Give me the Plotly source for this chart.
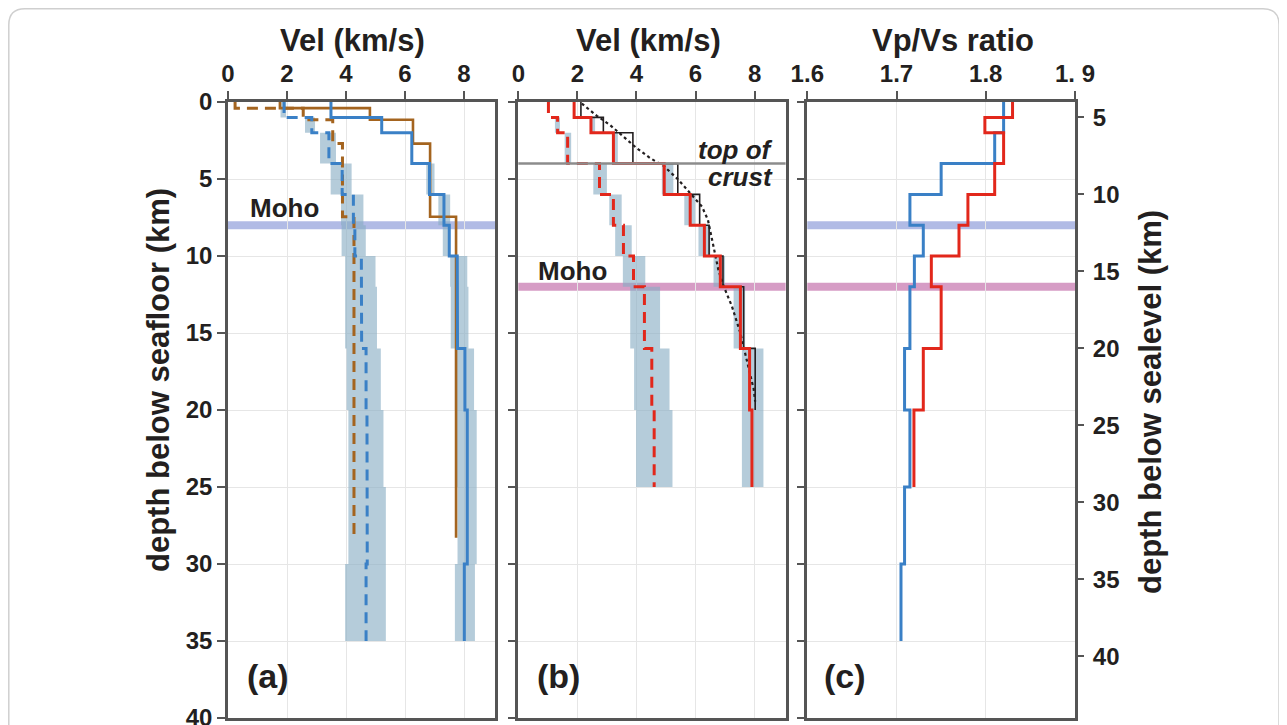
import plotly.graph_objects as go

# page body has an 8px margin, so the figure is 8px smaller than the window on each axis
OFF = 8
FW, FH = 1287 - OFF, 725 - OFF

# ---------------- Panel (a): blue model (this study) ----------------
a_tops = [0, 1, 2, 4, 6, 8, 10, 12, 16, 20, 25, 30]
a_bots = [1, 2, 4, 6, 8, 10, 12, 16, 20, 25, 30, 35]
a_vp = [3.49, 5.21, 6.23, 6.83, 7.32, 7.50, 7.77, 7.78, 8.03, 8.11, 8.11, 8.01]
a_vs = [1.90, 2.84, 3.42, 3.87, 4.25, 4.30, 4.52, 4.53, 4.68, 4.71, 4.72, 4.68]
a_vp_lo = [None, None, None, 6.72, 7.13, 7.28, 7.53, 7.55, 7.69, 7.75, 7.78, 7.69]
a_vp_hi = [None, None, None, 7.00, 7.53, 7.53, 8.11, 8.15, 8.34, 8.43, 8.43, 8.37]
a_vs_lo = [1.78, 2.61, 3.12, 3.48, 3.83, 3.85, 3.97, 3.97, 4.02, 4.08, 4.08, 3.97]
a_vs_hi = [1.97, 2.95, 3.66, 4.19, 4.59, 4.67, 5.00, 5.05, 5.18, 5.27, 5.35, 5.35]

# Panel (a): brown reference model
br_tops = [0, 0.4, 1.15, 2.7, 7.45]
br_bots = [0.4, 1.15, 2.7, 7.45, 28.3]
br_vp = [1.76, 4.81, 6.27, 6.85, 7.73]
br_vs = [0.24, 2.55, 3.55, 3.88, 4.27]

moho_a = 8.0

# ---------------- Panel (b): red model ----------------
b_tops = [0, 1, 2, 4, 6, 8, 10, 12, 16, 20]
b_bots = [1, 2, 4, 6, 8, 10, 12, 16, 20, 25]
b_vp = [1.89, 2.46, 3.22, 4.94, 5.82, 6.30, 6.84, 7.52, 7.83, 7.91]
b_vs = [1.02, 1.33, 1.67, 2.75, 3.22, 3.56, 3.90, 4.27, 4.52, 4.60]
b_vp_lo = [None, 2.46, 3.22, 4.86, 5.62, 6.10, 6.61, 7.29, 7.57, 7.57]
b_vp_hi = [None, 2.60, 3.37, 5.25, 5.99, 6.50, 7.00, 7.68, 8.30, 8.30]
b_vs_lo = [None, 1.24, 1.57, 2.54, 3.08, 3.28, 3.54, 3.79, 3.92, 3.99]
b_vs_hi = [None, 1.41, 1.79, 3.00, 3.50, 3.84, 4.30, 4.80, 5.12, 5.22]

# Panel (b): black layered model
k_tops = [0, 1, 2, 4, 6, 8, 10, 12, 16]
k_bots = [1, 2, 4, 6, 8, 10, 12, 16, 20]
k_vp = [2.12, 2.88, 3.88, 5.40, 6.14, 6.46, 6.93, 7.63, 8.02]

# Panel (b): dotted gradient model
dot_depth = [0.1, 0.9, 1.5, 2.25, 3.0, 3.65, 4.15, 5.05, 5.9, 6.8, 7.65, 8.75, 10.05, 10.95, 11.95, 13.25, 14.95, 16.75, 18.65, 19.45]
dot_vel = [2.15, 2.66, 3.11, 3.56, 4.01, 4.47, 4.92, 5.42, 5.82, 6.22, 6.42, 6.54, 6.67, 6.78, 6.95, 7.23, 7.51, 7.74, 7.97, 8.02]

moho_b = 12.0
top_of_crust = 4.0

# ---------------- Panel (c): Vp/Vs ratio ----------------
cb_tops = [0, 2, 4, 6, 8, 10, 12, 16, 20, 25, 30]
cb_bots = [2, 4, 6, 8, 10, 12, 16, 20, 25, 30, 35]
cb_ratio = [1.820, 1.810, 1.750, 1.715, 1.730, 1.720, 1.715, 1.709, 1.715, 1.709, 1.705]
cr_tops = [0, 1, 2, 4, 6, 8, 10, 12, 16, 20]
cr_bots = [1, 2, 4, 6, 8, 10, 12, 16, 20, 25]
cr_ratio = [1.830, 1.799, 1.820, 1.810, 1.780, 1.770, 1.739, 1.750, 1.730, 1.7195]

water_depth = 4.0
sealevel_ticks = [5, 10, 15, 20, 25, 30, 35, 40]
depth_ticks = [0, 5, 10, 15, 20, 25, 30, 35, 40]
vel_ticks = [0, 2, 4, 6, 8]
ratio_ticks = [1.6, 1.7, 1.8, 1.9]
ratio_ticktext = ["1.6", "1.7", "1.8", "1. 9"]

# ---------------- styles ----------------
BLUE = "#3a80c6"
BROWN = "#a4641f"
RED = "#e2271b"
BLACK = "#231f20"
SHADE = "rgba(135,172,196,0.62)"
MOHO_A = "rgba(105,125,205,0.52)"
MOHO_B = "rgba(185,85,155,0.58)"
FRAME = "#555555"
GRID = "#e6e6e6"
FONT = "Liberation Sans, Arial, sans-serif"
DASH = "11px,7px"


def px(x):
    return (x - OFF) / FW


def py(y):
    return 1 - (y - OFF) / FH


def steps(vals, tops, bots, shift=0.0):
    xs, ys = [], []
    for v, t, b in zip(vals, tops, bots):
        xs += [v, v]
        ys += [t + shift, b + shift]
    return xs, ys


def boxes(lo, hi, tops, bots):
    xs, ys = [], []
    for l, h, t, b in zip(lo, hi, tops, bots):
        if l is None:
            continue
        xs += [l, h, h, l, l, None]
        ys += [t, t, b, b, t, None]
    return xs, ys


fig = go.Figure()


def add_box(lo, hi, tops, bots, xa, ya):
    bx, by = boxes(lo, hi, tops, bots)
    fig.add_trace(go.Scatter(x=bx, y=by, mode="lines", fill="toself", fillcolor=SHADE,
                             line=dict(width=0), xaxis=xa, yaxis=ya, hoverinfo="skip", showlegend=False))


def add_step(vals, tops, bots, xa, ya, color, width, dash=None, shift=0.0):
    sx, sy = steps(vals, tops, bots, shift)
    fig.add_trace(go.Scatter(x=sx, y=sy, mode="lines", line=dict(color=color, width=width, dash=dash),
                             xaxis=xa, yaxis=ya, showlegend=False))


# Panel (a)
add_box(a_vp_lo, a_vp_hi, a_tops, a_bots, "x", "y")
add_box(a_vs_lo, a_vs_hi, a_tops, a_bots, "x", "y")
add_step(br_vs, br_tops, br_bots, "x", "y", BROWN, 3, DASH)
add_step(br_vp, br_tops, br_bots, "x", "y", BROWN, 2.6)
add_step(a_vs, a_tops, a_bots, "x", "y", BLUE, 3, DASH)
add_step(a_vp, a_tops, a_bots, "x", "y", BLUE, 3)

# Panel (b)
add_box(b_vp_lo, b_vp_hi, b_tops, b_bots, "x2", "y2")
add_box(b_vs_lo, b_vs_hi, b_tops, b_bots, "x2", "y2")
fig.add_trace(go.Scatter(x=dot_vel, y=dot_depth, mode="lines", line=dict(color=BLACK, width=2.2, dash="dot"),
                         xaxis="x2", yaxis="y2", showlegend=False))
add_step(k_vp, k_tops, k_bots, "x2", "y2", BLACK, 1.6)
add_step(b_vs, b_tops, b_bots, "x2", "y2", RED, 3, DASH)
add_step(b_vp, b_tops, b_bots, "x2", "y2", RED, 3)

# Panel (c): red drawn against the sea-level axis (depth + water depth), blue against seafloor axis
add_step(cr_ratio, cr_tops, cr_bots, "x3", "y4", RED, 3, shift=water_depth)
add_step(cb_ratio, cb_tops, cb_bots, "x3", "y3", BLUE, 3)

# bands / lines
shapes = []
for xa, ya, yv, col, w in [("x", "y", moho_a, MOHO_A, 8), ("x2", "y2", moho_b, MOHO_B, 8),
                           ("x3", "y3", moho_a, MOHO_A, 8), ("x3", "y3", moho_b, MOHO_B, 8)]:
    shapes.append(dict(type="line", xref=xa + " domain", yref=ya, x0=0, x1=1, y0=yv, y1=yv,
                       line=dict(color=col, width=w), layer="below"))
shapes.append(dict(type="line", xref="x2 domain", yref="y2", x0=0, x1=1, y0=top_of_crust, y1=top_of_crust,
                   line=dict(color="#8c8c8c", width=2.5), layer="above"))

# outer rounded card border (top corners only; bottom is cut off)
bx0, bx1 = px(8.8), px(1279)
byt = py(8.8)
rx, ry = 16 / FW, 16 / FH
path = (f"M {bx0},0 L {bx0},{byt-ry} Q {bx0},{byt} {bx0+rx},{byt} "
        f"L {bx1-rx},{byt} Q {bx1},{byt} {bx1},{byt-ry} L {bx1},0")
shapes.append(dict(type="path", xref="paper", yref="paper", path=path,
                   line=dict(color="#cfcfcf", width=1.5)))

tickfont = dict(family=FONT, size=24, color=BLACK, weight="bold")
ydom = [py(718), py(102)]


def xax(dom, rng, tickvals, anchor, ticktext=None):
    d = dict(domain=dom, range=rng, side="top", anchor=anchor, showline=True, linecolor=FRAME, linewidth=2.5,
             mirror=True, ticks="outside", ticklen=8, tickwidth=2, tickcolor=FRAME,
             tickvals=tickvals, tickfont=tickfont, showgrid=True, gridcolor=GRID, gridwidth=1,
             zeroline=False, automargin=False, ticklabeloverflow="allow")
    if ticktext:
        d["ticktext"] = ticktext
    return d


def yax(anchor, labels):
    return dict(domain=ydom, range=[40, 0], anchor=anchor, showline=True, linecolor=FRAME, linewidth=2.5,
                mirror=True, ticks="outside", ticklen=8, tickwidth=2, tickcolor=FRAME,
                tickvals=depth_ticks, showticklabels=labels, tickfont=tickfont,
                showgrid=True, gridcolor=GRID, gridwidth=1, zeroline=False, automargin=False,
                ticklabeloverflow="allow")


xa = xax([px(228), px(495)], [0, 9.05], vel_ticks, "y")
xb = xax([px(518.3), px(785.6)], [0, 9.05], vel_ticks, "y2")
xc = xax([px(807.3), px(1075)], [1.6, 1.9], ratio_ticks, "y3", ratio_ticktext)

y4 = dict(domain=ydom, range=[40 + water_depth, water_depth], overlaying="y3", anchor="x3", side="right",
          showline=False, ticks="outside", ticklen=8, tickwidth=2, tickcolor=FRAME, showticklabels=True,
          tickvals=sealevel_ticks, tickfont=tickfont, showgrid=False, zeroline=False, automargin=False,
          ticklabelstandoff=4, ticklabeloverflow="allow")

title_font = dict(family=FONT, size=31, color=BLACK, weight="bold")
label_font = dict(family=FONT, size=26, color=BLACK, weight="bold")
panel_font = dict(family=FONT, size=34, color=BLACK, weight="bold")


def ptext(text, x, y, font, angle=0):
    return dict(text=text, x=px(x), y=py(y), xref="paper", yref="paper", xanchor="center", yanchor="middle",
                showarrow=False, textangle=angle, font=font)


annotations = [
    ptext("Vel (km/s)", 352, 40, title_font),
    ptext("Vel (km/s)", 648, 40, title_font),
    ptext("Vp/Vs ratio", 953, 40, title_font),
    ptext("depth below seafloor (km)", 158, 380, title_font, -90),
    ptext("depth below sealevel (km)", 1150, 402, title_font, -90),
    dict(text="Moho", x=1.93, y=6.9, xref="x", yref="y", showarrow=False, font=label_font),
    dict(text="Moho", x=1.82, y=10.95, xref="x2", yref="y2", showarrow=False, font=label_font),
    dict(text="<i>top of</i>", x=8.69, y=3.1, xref="x2", yref="y2", xanchor="right", showarrow=False,
         font=label_font),
    dict(text="<i>crust</i>", x=8.69, y=4.85, xref="x2", yref="y2", xanchor="right", showarrow=False,
         font=label_font),
    dict(text="(a)", x=1.35, y=37.3, xref="x", yref="y", showarrow=False, font=panel_font),
    dict(text="(b)", x=1.35, y=37.3, xref="x2", yref="y2", showarrow=False, font=panel_font),
    dict(text="(c)", x=1.642, y=37.3, xref="x3", yref="y3", showarrow=False, font=panel_font),
]

fig.update_layout(
    width=FW, height=FH, margin=dict(l=0, r=0, t=0, b=0, pad=0, autoexpand=False),
    paper_bgcolor="white", plot_bgcolor="white", showlegend=False,
    xaxis=xa, xaxis2=xb, xaxis3=xc,
    yaxis=yax("x", True), yaxis2=yax("x2", False), yaxis3=yax("x3", False), yaxis4=y4,
    shapes=shapes, annotations=annotations,
)

fig.write_html("out.html")
